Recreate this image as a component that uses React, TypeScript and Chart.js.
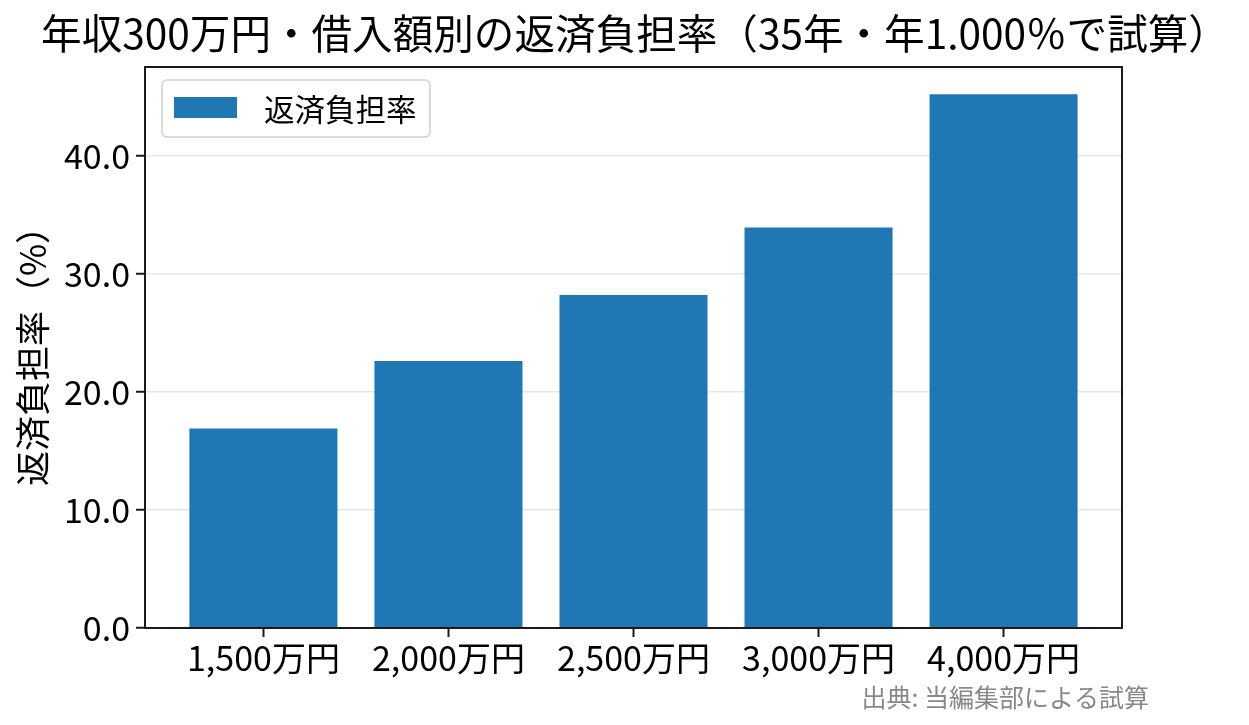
import { useEffect, useRef } from "react"
import { Chart, registerables } from "chart.js"

Chart.register(...registerables)

const FONT = "'Noto Sans CJK JP', 'Noto Sans', sans-serif"

// 借入額（カテゴリ）と返済負担率（%）
const loanLabels = ["1,500万円", "2,000万円", "2,500万円", "3,000万円", "4,000万円"]
const burdenRates = [16.9, 22.6, 28.2, 33.9, 45.2]
const seriesLabel = "返済負担率"
const yTicks = [0, 10, 20, 30, 40]

const titleText = "年収300万円・借入額別の返済負担率（35年・年1.000％で試算）"
const sourceText = "出典: 当編集部による試算"
const barColor = "#1f77b4"

// frame on all four sides, plus title / source text / legend box
const decorPlugin = {
  id: "decor",
  afterDraw(chart: Chart) {
    const { ctx, chartArea } = chart
    const { left, top, right, bottom } = chartArea
    ctx.save()
    ctx.strokeStyle = "#1a1a1a"
    ctx.lineWidth = 2
    ctx.strokeRect(left, top, right - left, bottom - top)

    // title
    ctx.fillStyle = "#000"
    ctx.font = `40.6px ${FONT}`
    ctx.textAlign = "center"
    ctx.textBaseline = "middle"
    ctx.fillText(titleText, 635, 34)

    // source
    ctx.fillStyle = "#888"
    ctx.font = `25px ${FONT}`
    ctx.textAlign = "right"
    ctx.fillText(sourceText, 1149, 697)

    // legend
    const lx = left + 17
    const ly = top + 13
    const lw = 268
    const lh = 57
    ctx.beginPath()
    ctx.roundRect(lx, ly, lw, lh, 5)
    ctx.fillStyle = "rgba(255,255,255,0.85)"
    ctx.fill()
    ctx.strokeStyle = "#d0d0d0"
    ctx.lineWidth = 1.5
    ctx.stroke()
    ctx.fillStyle = barColor
    ctx.fillRect(lx + 12, ly + 17, 63, 21)
    ctx.fillStyle = "#000"
    ctx.font = `30.5px ${FONT}`
    ctx.textAlign = "left"
    ctx.fillText(seriesLabel, lx + 102, ly + 29)
    ctx.restore()
  },
}

export default function App() {
  const chartRef = useRef<HTMLCanvasElement>(null)
  const chartInstance = useRef<Chart | null>(null)

  useEffect(() => {
    document.body.style.margin = "0"
    if (!chartRef.current) return

    if (chartInstance.current) {
      chartInstance.current.destroy()
    }

    const ctx = chartRef.current.getContext("2d")
    if (!ctx) return

    chartInstance.current = new Chart(ctx, {
      type: "bar",
      data: {
        datasets: [
          {
            label: seriesLabel,
            data: burdenRates.map((v, i) => ({ x: i, y: v })),
            backgroundColor: barColor,
            borderWidth: 0,
            barPercentage: 0.8,
            categoryPercentage: 1,
          },
        ],
      },
      options: {
        responsive: true,
        maintainAspectRatio: false,
        animation: false,
        layout: { padding: { left: 0, right: 127, top: 67, bottom: 0 } },
        plugins: {
          legend: { display: false },
          title: { display: false },
          tooltip: { enabled: false },
        },
        scales: {
          x: {
            type: "linear",
            min: -0.64,
            max: 4.64,
            offset: false,
            afterBuildTicks: (scale: any) => {
              scale.ticks = loanLabels.map((_, i) => ({ value: i }))
            },
            afterFit: (scale: any) => {
              scale.height = 97
            },
            ticks: {
              callback: (value: any) => loanLabels[Math.round(Number(value))] ?? "",
              color: "#000",
              font: { family: FONT, size: 34 },
              padding: 1,
              maxRotation: 0,
              autoSkip: false,
            },
            grid: {
              drawOnChartArea: false,
              tickColor: "#1a1a1a",
              tickLength: 9,
              tickWidth: 2,
              offset: false,
            },
            border: { color: "#1a1a1a", width: 2 },
          },
          y: {
            min: 0,
            max: 47.5,
            afterBuildTicks: (scale: any) => {
              scale.ticks = yTicks.map((v) => ({ value: v }))
            },
            afterFit: (scale: any) => {
              scale.width = 145
            },
            ticks: {
              callback: (value: any) => Number(value).toFixed(1),
              color: "#000",
              font: { family: FONT, size: 34 },
              padding: 6,
            },
            grid: {
              color: "#e6e6e6",
              lineWidth: 1.5,
              tickColor: "#1a1a1a",
              tickLength: 9,
              tickWidth: 2,
            },
            border: { color: "#1a1a1a", width: 2 },
            title: {
              display: true,
              text: "返済負担率（%）",
              color: "#000",
              font: { family: FONT, size: 35 },
              padding: { top: 12, bottom: 0 },
            },
          },
        },
      },
      plugins: [decorPlugin],
    })

    return () => {
      if (chartInstance.current) {
        chartInstance.current.destroy()
        chartInstance.current = null
      }
    }
  }, [])

  return (
    <div style={{ width: 1249, height: 725, position: "relative" }}>
      <canvas ref={chartRef} />
    </div>
  )
}
